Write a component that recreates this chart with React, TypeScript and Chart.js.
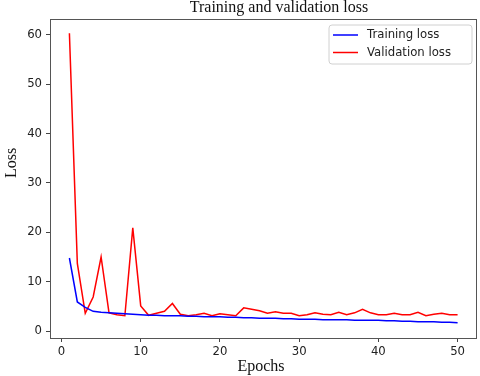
import React, { useEffect, useRef } from "react";
import { Chart, registerables } from "chart.js";

Chart.register(...registerables);

const epochs: number[] = Array.from({ length: 50 }, (_, i) => i + 1);
const trainingLoss: number[] = [14.8, 5.9, 4.8, 4.0, 3.8, 3.7, 3.6, 3.5, 3.4, 3.3, 3.2, 3.2, 3.1, 3.1, 3.1, 3.0, 3.0, 2.9, 2.9, 2.9, 2.8, 2.8, 2.7, 2.7, 2.6, 2.6, 2.6, 2.5, 2.5, 2.4, 2.4, 2.4, 2.3, 2.3, 2.3, 2.3, 2.2, 2.2, 2.2, 2.2, 2.1, 2.1, 2.0, 2.0, 1.9, 1.9, 1.9, 1.8, 1.8, 1.7];
const validationLoss: number[] = [60.3, 13.7, 3.6, 6.9, 15.0, 3.7, 3.3, 3.1, 20.9, 5.1, 3.2, 3.6, 4.0, 5.6, 3.4, 3.1, 3.3, 3.6, 3.1, 3.5, 3.3, 3.1, 4.7, 4.4, 4.1, 3.6, 3.9, 3.6, 3.6, 3.1, 3.3, 3.7, 3.4, 3.3, 3.8, 3.3, 3.7, 4.4, 3.7, 3.3, 3.3, 3.6, 3.3, 3.3, 3.8, 3.1, 3.4, 3.6, 3.3, 3.3];
const xTicks: number[] = [0, 10, 20, 30, 40, 50];
const yTicks: number[] = [0, 10, 20, 30, 40, 50, 60];
const titleText = "Training and validation loss";
const xLabel = "Epochs";
const yLabel = "Loss";
const seriesNames: string[] = ["Training loss", "Validation loss"];
const seriesColors: string[] = ["#0000ff", "#ff0000"];

const SANS = "'DejaVu Sans', sans-serif";
const SERIF = "'Liberation Serif', 'Times New Roman', serif";
const SMALL = 11.7;

export default function App() {
  const ref = useRef<HTMLCanvasElement | null>(null);

  useEffect(() => {
    if (!ref.current) return;
    const decor = {
      id: "decor",
      afterDraw(chart: any) {
        const ctx = chart.ctx;
        const a = chart.chartArea;
        ctx.save();
        // frame
        ctx.strokeStyle = "#555555";
        ctx.lineWidth = 1;
        ctx.strokeRect(a.left + 0.5, a.top + 0.5, a.right - a.left - 1, a.bottom - a.top);
        // title and axis labels
        ctx.fillStyle = "#111111";
        ctx.font = `16px ${SERIF}`;
        ctx.textAlign = "center";
        ctx.textBaseline = "alphabetic";
        ctx.fillText(titleText, 279, 12);
        ctx.fillText(xLabel, 261, 371);
        ctx.save();
        ctx.translate(16, 163);
        ctx.rotate(-Math.PI / 2);
        ctx.fillText(yLabel, 0, 0);
        ctx.restore();
        // legend
        const lx = 329, ly = 25, lw = 143, lh = 39, r = 3;
        ctx.beginPath();
        ctx.moveTo(lx + r, ly);
        ctx.arcTo(lx + lw, ly, lx + lw, ly + lh, r);
        ctx.arcTo(lx + lw, ly + lh, lx, ly + lh, r);
        ctx.arcTo(lx, ly + lh, lx, ly, r);
        ctx.arcTo(lx, ly, lx + lw, ly, r);
        ctx.closePath();
        ctx.fillStyle = "rgba(255,255,255,0.8)";
        ctx.fill();
        ctx.strokeStyle = "#d0d0d0";
        ctx.stroke();
        ctx.font = `${SMALL}px ${SANS}`;
        ctx.textAlign = "left";
        ctx.textBaseline = "middle";
        const rows = [35, 52.5];
        seriesNames.forEach((name, i) => {
          ctx.strokeStyle = seriesColors[i];
          ctx.lineWidth = 1.5;
          ctx.beginPath();
          ctx.moveTo(333, rows[i]);
          ctx.lineTo(358, rows[i]);
          ctx.stroke();
          ctx.fillStyle = "#222222";
          ctx.fillText(name, 367, rows[i]);
        });
        ctx.restore();
      },
    };

    const chart = new Chart(ref.current, {
      type: "line",
      data: {
        datasets: [
          {
            label: seriesNames[0],
            data: epochs.map((e, i) => ({ x: e, y: trainingLoss[i] })),
            borderColor: seriesColors[0],
            borderWidth: 1.5,
            pointRadius: 0,
            tension: 0,
          },
          {
            label: seriesNames[1],
            data: epochs.map((e, i) => ({ x: e, y: validationLoss[i] })),
            borderColor: seriesColors[1],
            borderWidth: 1.5,
            pointRadius: 0,
            tension: 0,
          },
        ],
      },
      options: {
        animation: false,
        responsive: false,
        maintainAspectRatio: false,
        layout: { padding: { top: 19, right: 3, left: 0, bottom: 0 } },
        plugins: { legend: { display: false }, title: { display: false }, tooltip: { enabled: false } },
        scales: {
          x: {
            type: "linear",
            min: -1.45,
            max: 52.45,
            afterBuildTicks: (s: any) => { s.ticks = xTicks.map((v) => ({ value: v })); },
            afterFit: (s: any) => { s.height = 38; },
            grid: { drawOnChartArea: false, drawTicks: true, tickLength: 4, color: "#444444" },
            border: { display: false },
            ticks: { font: { family: SANS, size: SMALL }, color: "#222222", padding: 3, maxRotation: 0, autoSkip: false },
          },
          y: {
            type: "linear",
            min: -1.4,
            max: 63.2,
            afterBuildTicks: (s: any) => { s.ticks = yTicks.map((v) => ({ value: v })); },
            afterFit: (s: any) => { s.width = 50; },
            grid: { drawOnChartArea: false, drawTicks: true, tickLength: 4, color: "#444444" },
            border: { display: false },
            ticks: { font: { family: SANS, size: SMALL }, color: "#222222", padding: 4, autoSkip: false },
          },
        },
      },
      plugins: [decor],
    });
    return () => chart.destroy();
  }, []);

  return (
    <div style={{ position: "fixed", left: 0, top: 0, width: 480, height: 376, background: "#fff" }}>
      <canvas ref={ref} width={480} height={376} style={{ width: 480, height: 376, display: "block" }} />
    </div>
  );
}
